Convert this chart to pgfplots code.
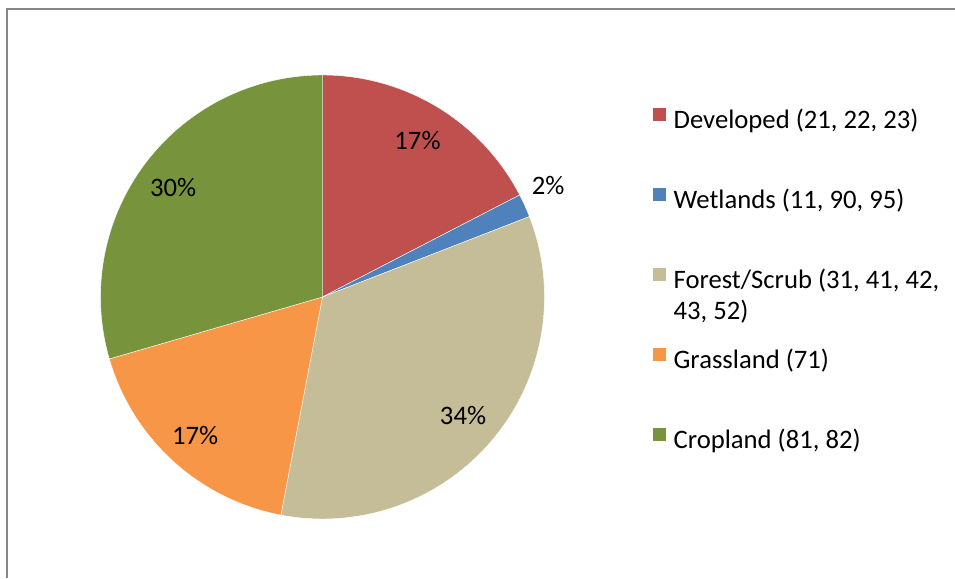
\documentclass[border=0pt]{standalone}
\usepackage{pgfplots}
\usepackage{pgfplotstable}
\pgfplotsset{compat=1.18}
\usepackage{fontspec}
\setmainfont{Carlito}
\definecolor{devred}{HTML}{C0504D}
\definecolor{wetblue}{HTML}{4F81BD}
\definecolor{foresttan}{HTML}{C4BD97}
\definecolor{grassorange}{HTML}{F79646}
\definecolor{cropgreen}{HTML}{77933C}
\definecolor{framegray}{HTML}{878787}

\pgfplotstableread{
label value
Developed 17.4
Wetlands 1.7
Forest 33.9
Grassland 17.5
Cropland 29.5
}\piedata

\begin{document}
\begin{tikzpicture}
\pgfplotstablegetelem{0}{value}\of\piedata \let\vA\pgfplotsretval
\pgfplotstablegetelem{1}{value}\of\piedata \let\vB\pgfplotsretval
\pgfplotstablegetelem{2}{value}\of\piedata \let\vC\pgfplotsretval
\pgfplotstablegetelem{3}{value}\of\piedata \let\vD\pgfplotsretval
\pgfplotstablegetelem{4}{value}\of\piedata \let\vE\pgfplotsretval
\pgfmathsetmacro\aA{90}
\pgfmathsetmacro\aB{\aA-3.6*\vA}
\pgfmathsetmacro\aC{\aB-3.6*\vB}
\pgfmathsetmacro\aD{\aC-3.6*\vC}
\pgfmathsetmacro\aE{\aD-3.6*\vD}
\pgfmathsetmacro\aF{\aE-3.6*\vE}
\useasboundingbox (0,0) rectangle (716.25pt,433.5pt);
\draw[framegray, line width=1.5pt] (5.25pt,0pt) -- (5.25pt,426.75pt) -- (720pt,426.75pt);
\begin{axis}[
  hide axis,
  x=1.665pt, y=1.665pt,
  xmin=-110, xmax=110, ymin=-110, ymax=110,
  anchor=center, at={(241.875pt,210.75pt)},
  clip=false,
  legend style={draw=none, fill=none, inner sep=0pt, outer sep=0pt,
    at={(1.1745,0.8892)}, anchor=north west,
    row sep=39.6pt, column sep=5.5pt,
    nodes={inner sep=0pt, text height=14pt, text depth=4pt, font=\fontsize{20}{24}\selectfont}},
  legend cell align=left,
  legend image code/.code={\fill[#1] (0pt,0.75pt) rectangle (10.5pt,11.25pt);},
]
\addplot[fill=devred, draw=white, line width=0.3pt, domain=\aB:\aA, samples=80] ({100*cos(x)},{100*sin(x)}) -- (axis cs:0,0) -- cycle;
\addlegendentry{Developed (21, 22, 23)}
\addplot[fill=wetblue, draw=white, line width=0.3pt, domain=\aC:\aB, samples=20] ({100*cos(x)},{100*sin(x)}) -- (axis cs:0,0) -- cycle;
\addlegendentry{Wetlands (11, 90, 95)}
\addplot[fill=foresttan, draw=white, line width=0.3pt, domain=\aD:\aC, samples=120] ({100*cos(x)},{100*sin(x)}) -- (axis cs:0,0) -- cycle;
\addlegendentry{\smash{\begin{tabular}[t]{@{}l@{}}Forest/Scrub (31, 41, 42,\\[-1pt]43, 52)\end{tabular}}}
\addplot[fill=grassorange, draw=white, line width=0.3pt, domain=\aE:\aD, samples=80] ({100*cos(x)},{100*sin(x)}) -- (axis cs:0,0) -- cycle;
\addlegendentry{Grassland (71)}
\addplot[fill=cropgreen, draw=white, line width=0.3pt, domain=\aF:\aE, samples=100] ({100*cos(x)},{100*sin(x)}) -- (axis cs:0,0) -- cycle;
\addlegendentry{Cropland (81, 82)}
\begin{scope}[every node/.style={font=\fontsize{20}{24}\selectfont}]
\node at (axis cs:42.8,70.7) {17\%};
\node at (axis cs:101.6,50.0) {2\%};
\node at (axis cs:63.3,-53.2) {34\%};
\node at (axis cs:-57.4,-62.6) {17\%};
\node at (axis cs:-67.3,49.5) {30\%};
\end{scope}
\end{axis}
\end{tikzpicture}
\end{document}
